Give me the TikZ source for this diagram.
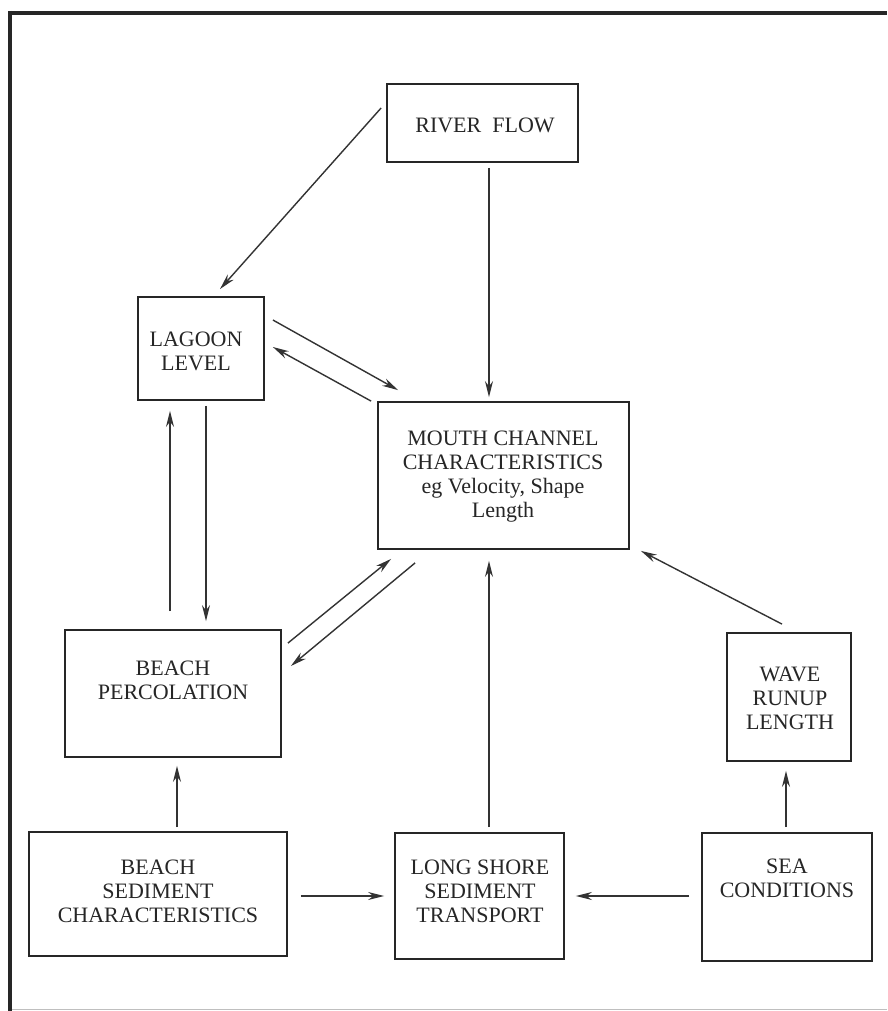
\documentclass[tikz,border=0pt]{standalone}
\usepackage{fontspec}
\setmainfont{Liberation Serif}
\usetikzlibrary{arrows.meta,calc}
\begin{document}
\begin{tikzpicture}[x=1pt,y=-1pt,
  box/.style={draw=black!85,line width=1.8pt,rectangle,inner sep=0pt},
  txt/.style={align=center,font=\fontsize{22}{24}\selectfont,text=black!85,inner sep=0pt},
  arr/.style={draw=black!80,line width=1.4pt,-{Stealth[length=16pt,width=8pt]}}]
\useasboundingbox[fill=white] (0,0) rectangle (887,1011);
% frame
\draw[line width=4pt,black!85] (8,13) -- (887,13);
\draw[line width=4pt,black!85] (10,11) -- (10,1011);
\draw[line width=1pt,black!25] (12,1009) -- (887,1009);
% boxes
\node[box,minimum width=191pt,minimum height=78pt] (river) at (482.5,123) {};
\node[box,minimum width=126pt,minimum height=103pt] (lagoon) at (201,348.5) {};
\node[box,minimum width=251pt,minimum height=147pt] (mouth) at (503.5,475.5) {};
\node[box,minimum width=216pt,minimum height=127pt] (perc) at (173,693.5) {};
\node[box,minimum width=124pt,minimum height=128pt] (wave) at (789,697) {};
\node[box,minimum width=258pt,minimum height=124pt] (sed) at (158,894) {};
\node[box,minimum width=169pt,minimum height=126pt] (long) at (479.5,896) {};
\node[box,minimum width=170pt,minimum height=128pt] (sea) at (787,897) {};
% texts
\node[txt] (riverT) at (485,125) {RIVER\enspace FLOW};
\node[txt] (lagoonT) at (196,351) {LAGOON\\LEVEL};
\node[txt] (mouthT) at (503,477) {MOUTH CHANNEL\\CHARACTERISTICS\\eg Velocity, Shape\\Length};
\node[txt] (percT) at (173,680) {BEACH\\PERCOLATION};
\node[txt] (waveT) at (790,698) {WAVE\\RUNUP\\LENGTH};
\node[txt] (sedT) at (158,891) {BEACH\\SEDIMENT\\CHARACTERISTICS};
\node[txt] (longT) at (480,891) {LONG SHORE\\SEDIMENT\\TRANSPORT};
\node[txt] (seaT) at (787,878) {SEA\\CONDITIONS};
% connectors
\draw[arr] ($(river.west)+(-5,-15)$) -- ($(lagoon.north)+(19,-7)$);
\draw[arr] ($(river.south)+(6.5,5)$) -- ($(mouth.north)+(-14.5,-4)$);
\draw[arr] ($(lagoon.east)+(8,-28.5)$) -- ($(mouth.north west)+(21,-11)$);
\draw[arr] ($(mouth.north west)+(-6,0)$) -- ($(lagoon.east)+(8,-1.5)$);
\draw[arr] ($(lagoon.south)+(5,5)$) -- ($(perc.north)+(33,-8)$);
\draw[arr] ($(perc.north)+(-3,-18)$) -- ($(lagoon.south)+(-31,10)$);
\draw[arr] ($(perc.north east)+(6,14)$) -- ($(mouth.south west)+(14,9)$);
\draw[arr] ($(mouth.south west)+(38,13)$) -- ($(perc.east)+(9,-27.5)$);
\draw[arr] ($(wave.north)+(-7,-8)$) -- ($(mouth.south east)+(11,1)$);
\draw[arr] ($(long.north)+(9.5,-5)$) -- ($(mouth.south)+(-14.5,11)$);
\draw[arr] ($(sed.north)+(19,-4)$) -- ($(perc.south)+(4,8)$);
\draw[arr] ($(sed.east)+(13,2)$) -- ($(long.west)+(-10,0)$);
\draw[arr] ($(sea.west)+(-12,-1)$) -- ($(long.east)+(11,0)$);
\draw[arr] ($(sea.north)+(-1,-5)$) -- ($(wave.south)+(-3,9)$);
\end{tikzpicture}
\end{document}
